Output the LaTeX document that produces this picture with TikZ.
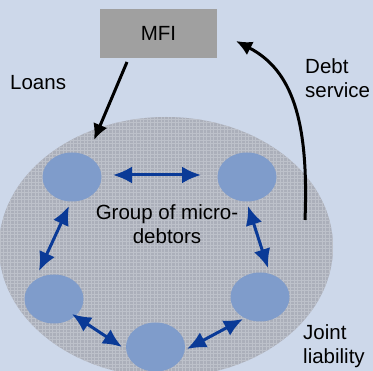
\documentclass[tikz,border=0pt]{standalone}
\usepackage{fontspec}
\setmainfont{Liberation Sans}
\usetikzlibrary{arrows.meta}
\definecolor{bg}{HTML}{CDD8EA}
\definecolor{mfigray}{HTML}{A0A0A0}
\definecolor{grp}{HTML}{ABAFBA}
\definecolor{grid}{HTML}{BDC1CA}
\definecolor{debtor}{HTML}{7F9CCB}
\definecolor{link}{HTML}{0A3A97}
\tikzset{
  lbl/.style={font=\fontsize{20.5}{24}\selectfont, inner sep=0pt},
  debtorshape/.style={ellipse, fill=debtor, minimum width=59pt, minimum height=49pt, inner sep=0pt},
  flow/.style={line width=3pt, -{Latex[length=16pt,width=15pt]}},
  tie/.style={link, line width=3pt, {Latex[length=19pt,width=17pt]}-{Latex[length=19pt,width=17pt]}},
}
\usetikzlibrary{shapes.geometric}
\begin{document}
\begin{tikzpicture}[x=1pt,y=-1pt]
\fill[bg] (0,0) rectangle (373,371);
\useasboundingbox (0,0) rectangle (373,371);
% group ellipse
\begin{scope}
\clip (0,0) rectangle (373,371);
\fill[grp] (166,247) ellipse [x radius=167, y radius=130];
\begin{scope}
\clip (166,247) ellipse [x radius=167, y radius=130];
\draw[grid, line width=0.5pt] (-2,116) grid[step=3.5pt] (336,380);
\end{scope}
\end{scope}
% MFI
\node[fill=mfigray, minimum width=117pt, minimum height=49pt, lbl] (mfi) at (158.5,33.5) {MFI};
% debtors
\node[debtorshape] (tl) at (72,177) {};
\node[debtorshape] (tr) at (247,177) {};
\node[debtorshape] (l) at (54,299) {};
\node[debtorshape] (r) at (260,297) {};
\node[debtorshape] (b) at (155.5,347) {};
% labels
\node[lbl, align=center] (grouplbl) at (167,224) {Group of micro-\\debtors};
\node[lbl, anchor=west] (loans) at (10,83) {Loans};
\node[lbl, anchor=west, align=left] (debt) at (305,78) {Debt\\service};
\node[lbl, anchor=west, align=left] (joint) at (303,346) {Joint\\liability};
% black flows
\coordinate (loanstart) at (127,62);
\coordinate (loanend) at (94,140);
\draw[flow] (loanstart) -- (loanend);
\coordinate (debtstart) at (305,220);
\coordinate (debtend) at (236,41);
\draw[flow] (debtstart) .. controls (309,120) and (292,70) .. (debtend);
% blue ties
\coordinate (t1) at (113,175); \coordinate (t2) at (201,175);
\draw[tie] (t1) -- (t2);
\coordinate (l1) at (69,206); \coordinate (l2) at (39,271);
\draw[tie] (l1) -- (l2);
\coordinate (r1) at (248,206); \coordinate (r2) at (268,268);
\draw[tie] (r1) -- (r2);
\coordinate (bl1) at (72,314); \coordinate (bl2) at (122,347);
\draw[tie] (bl1) -- (bl2);
\coordinate (br1) at (243,319); \coordinate (br2) at (187,349);
\draw[tie] (br1) -- (br2);
\end{tikzpicture}
\end{document}
